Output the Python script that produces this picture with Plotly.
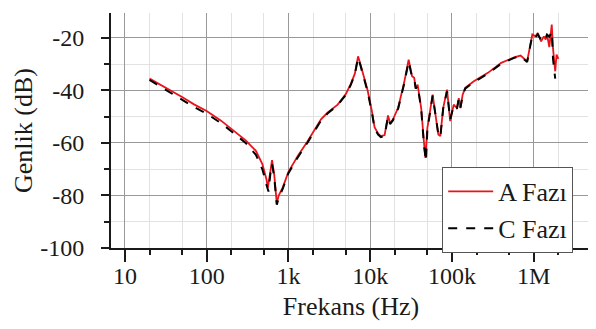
import plotly.graph_objects as go

freq_a = [20, 30, 50, 70, 100, 150, 200, 300, 400, 480, 540, 560, 600, 630, 670, 720, 760, 850,
          1000, 1300, 1700, 2200, 2500, 3000, 4000, 5000, 5800, 6500, 7100, 7600, 8200, 9300,
          10500, 11300, 12500, 13500, 15000, 16500, 17500, 19000, 22000, 26000, 29500, 31000,
          32500, 34500, 36000, 38000, 42000, 45500, 47300, 50000, 58000, 68000, 72000, 78000,
          87000, 95000, 105000, 115000, 121000, 127000, 135000, 145000, 185000, 275000, 400000,
          575000, 690000, 830000, 960000, 1050000, 1120000, 1230000, 1330000, 1400000, 1450000,
          1550000, 1600000, 1660000, 1720000, 1780000, 1830000, 1900000, 2000000]
a_db = [-35.5, -38.5, -42.5, -45.3, -47.8, -51.5, -54.5, -59, -63, -68, -74, -77, -71, -66.5, -72,
        -83, -80, -77, -71, -65, -59.5, -53.5, -51, -48.5, -45.4, -41.5, -37.5, -33.5, -27, -30,
        -34, -40, -48, -54, -56.5, -57.4, -57, -49.5, -52.5, -51, -46.5, -37, -28.3, -32, -34.6,
        -35.2, -39, -37.8, -46.7, -60, -65.7, -54.3, -41.6, -56.8, -57.4, -46.7, -39.7, -51.7,
        -45.4, -46.7, -42.9, -46.7, -41.6, -39, -36.5, -33.3, -29.5, -27.4, -26.7, -28.9, -18.7,
        -19.4, -18.1, -21.3, -19.4, -20.6, -18.5, -23.5, -18.1, -14.9, -24, -30.2, -32.7, -26.3, -28]

freq_c = [20, 30, 50, 70, 100, 150, 200, 300, 400, 480, 540, 570, 600, 630, 670, 720, 760, 850,
          1000, 1300, 1700, 2200, 2500, 3000, 4000, 5000, 5800, 6500, 7100, 7600, 8200, 9300,
          10500, 11300, 12500, 13500, 15000, 16500, 17500, 19000, 22000, 26000, 29500, 31000,
          32500, 34500, 36000, 38000, 42000, 45500, 48000, 50000, 58000, 68000, 72000, 78000,
          87000, 95000, 105000, 115000, 121000, 127000, 135000, 145000, 185000, 275000, 400000,
          575000, 690000, 830000, 960000, 1050000, 1120000, 1230000, 1330000, 1400000, 1450000,
          1550000, 1600000, 1660000, 1720000, 1780000, 1830000]
c_db = [-36, -39.3, -43.5, -46.3, -48.8, -52.5, -55.5, -60, -64.5, -70, -76, -78.5, -72, -68, -73,
        -83.5, -81, -77.5, -71.5, -65.5, -60, -54, -51.5, -48.8, -45.6, -41.8, -37.8, -33.8, -27.5,
        -30.5, -34.3, -40.5, -48.5, -54.5, -56.8, -57.8, -57.3, -50, -52.8, -51.3, -46.8, -37.5,
        -29, -32.5, -35, -35.5, -39.3, -38.2, -47, -61, -67, -55, -42, -56.5, -57.8, -47, -40.3,
        -51, -45.8, -47, -43.2, -46.5, -42, -39.3, -36.8, -33.6, -29.8, -27.6, -26.9, -29.2, -19,
        -19.8, -18.6, -20.8, -19.6, -20.3, -18.8, -19.5, -18.5, -17.5, -28, -33, -35.5]

x_tick_vals = [10, 100, 1000, 10000, 100000, 1000000]
x_tick_text = ["10", "100", "1k", "10k", "100k", "1M"]
y_tick_vals = [-100, -80, -60, -40, -20]
y_tick_text = ["-100", "-80", "-60", "-40", "-20"]

font_family = "Liberation Serif, Times New Roman, serif"
ink = "#1a1a1a"

fig = go.Figure()
fig.add_trace(go.Scatter(x=freq_a, y=a_db, mode="lines", name="A Fazı",
                         line=dict(color="#e8141c", width=1.8)))
fig.add_trace(go.Scatter(x=freq_c, y=c_db, mode="lines", name="C Fazı",
                         line=dict(color="black", width=2, dash="dash")))

fig.update_layout(
    width=596, height=329,
    margin=dict(l=103, r=13, t=5, b=89),
    plot_bgcolor="white", paper_bgcolor="white",
    font=dict(family=font_family, size=24, color=ink),
    showlegend=True,
    legend=dict(x=0.69, y=0.345, xanchor="left", yanchor="top",
                bgcolor="white", bordercolor="#555", borderwidth=1,
                font=dict(size=26, family=font_family, color=ink), tracegroupgap=0,
                itemwidth=45),
)
fig.update_xaxes(
    type="log", range=[0.83, 6.70],
    tickvals=x_tick_vals, ticktext=x_tick_text,
    ticks="outside", ticklen=12, tickwidth=1.5, tickcolor=ink,
    ticklabelstandoff=-7,
    showline=True, linecolor=ink, linewidth=2,
    showgrid=True, gridcolor="#999", gridwidth=1,
    minor=dict(ticks="outside", ticklen=5, tickwidth=1.5, tickcolor=ink,
               showgrid=True, gridcolor="#e2e2e2"),
    title=dict(text="Frekans (Hz)", font=dict(size=26, family=font_family, color=ink), standoff=9),
    tickfont=dict(size=24, family=font_family, color=ink),
    zeroline=False,
)
fig.update_yaxes(
    range=[-100, -10.5],
    tickvals=y_tick_vals, ticktext=y_tick_text,
    ticks="outside", ticklen=8, tickwidth=1.5, tickcolor=ink,
    ticklabelstandoff=12,
    showline=True, linecolor=ink, linewidth=2,
    showgrid=True, gridcolor="#999", gridwidth=1,
    minor=dict(dtick=10, ticks="outside", ticklen=5, tickwidth=1.5, tickcolor=ink,
               showgrid=True, gridcolor="#e2e2e2"),
    title=dict(text="Genlik (dB)", font=dict(size=26, family=font_family, color=ink), standoff=0),
    tickfont=dict(size=24, family=font_family, color=ink),
    zeroline=False,
)

fig.write_html("out.html")
